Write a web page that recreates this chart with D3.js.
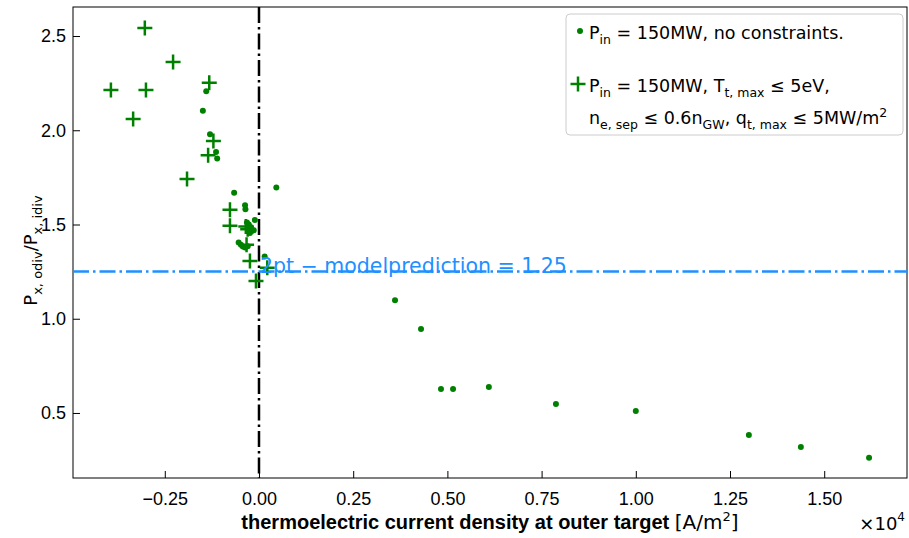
<!DOCTYPE html>
<html>
<head>
<meta charset="utf-8">
<script src="https://cdn.jsdelivr.net/npm/d3@7"></script>
<style>
  body { margin: 0; background: #fff; }
  svg { display: block; }
</style>
</head>
<body>
<div class="canvas"></div>
<script>
// data (x in units of 1e4 A/m^2)
const freeX = [-0.140, -0.149, -0.130, -0.114, -0.111, 0.046, -0.066, -0.037, -0.036, -0.011,
  -0.032, -0.027, -0.021, -0.019, -0.024, -0.014,
  -0.054, -0.048, -0.043, -0.037, -0.030, 0.015,
  0.361, 0.430, 0.483, 0.515, 0.610, 0.788, 1.000, 1.300, 1.438, 1.619];
const freeY = [2.207, 2.104, 1.979, 1.885, 1.850, 1.696, 1.669, 1.602, 1.581, 1.524,
  1.510, 1.500, 1.485, 1.465, 1.455, 1.470,
  1.404, 1.393, 1.383, 1.378, 1.385, 1.330,
  1.098, 0.945, 0.627, 0.627, 0.638, 0.548, 0.511, 0.383, 0.320, 0.262];
const consX = [-0.303, -0.228, -0.393, -0.300, -0.132, -0.334, -0.191, -0.121, -0.135,
  -0.077, -0.077, -0.035, -0.030, -0.033, -0.024, 0.022, -0.008];
const consY = [2.542, 2.362, 2.214, 2.214, 2.252, 2.060, 1.742, 1.943, 1.867,
  1.578, 1.494, 1.490, 1.475, 1.392, 1.307, 1.270, 1.200];
const xTicks = [-0.25, 0, 0.25, 0.5, 0.75, 1.0, 1.25, 1.5];
const yTicks = [0.5, 1.0, 1.5, 2.0, 2.5];
const prediction = 1.25;

const width = 909, height = 538;
const margin = { top: 7, right: 2, bottom: 60, left: 73 };
const green = '#008000';
const blue = '#1e90ff';
const mathFont = "'DejaVu Sans', sans-serif";
const tickFont = "'Liberation Sans', Arial, sans-serif";

const svg = d3.select('.canvas').append('svg')
  .attr('width', width)
  .attr('height', height);

const x = d3.scaleLinear().domain([-0.4936, 1.7197]).range([margin.left, width - margin.right]);
const y = d3.scaleLinear().domain([0.155, 2.654]).range([height - margin.bottom, margin.top]);

// axes (ticks pointing inward)
const xAxis = d3.axisTop(x).tickValues(xTicks).tickSize(7).tickFormat(d3.format('.2f'));
const yAxis = d3.axisRight(y).tickValues(yTicks).tickSize(7).tickFormat(d3.format('.1f'));

const xAxisGroup = svg.append('g')
  .attr('transform', `translate(0,${y.range()[0]})`)
  .call(xAxis);
xAxisGroup.select('.domain').remove();
xAxisGroup.selectAll('line').attr('stroke', '#000').attr('stroke-width', 1);
xAxisGroup.selectAll('text')
  .attr('y', 27)
  .attr('dy', 0)
  .attr('font-family', tickFont)
  .attr('font-size', 18)
  .attr('fill', '#000')
  .text(d => d < 0 ? '\u2212' + d3.format('.2f')(-d) : d3.format('.2f')(d));

const yAxisGroup = svg.append('g')
  .attr('transform', `translate(${x.range()[0]},0)`)
  .call(yAxis);
yAxisGroup.select('.domain').remove();
yAxisGroup.selectAll('line').attr('stroke', '#000').attr('stroke-width', 1);
yAxisGroup.selectAll('text')
  .attr('x', -7)
  .attr('text-anchor', 'end')
  .attr('font-family', tickFont)
  .attr('font-size', 18)
  .attr('fill', '#000');

// frame
svg.append('rect')
  .attr('x', x.range()[0])
  .attr('y', y.range()[1])
  .attr('width', x.range()[1] - x.range()[0])
  .attr('height', y.range()[0] - y.range()[1])
  .attr('fill', 'none')
  .attr('stroke', '#000')
  .attr('stroke-width', 1);

// reference lines
svg.append('line')
  .attr('x1', x(0)).attr('x2', x(0))
  .attr('y1', y.range()[1]).attr('y2', y.range()[0])
  .attr('stroke', '#000')
  .attr('stroke-width', 2.5)
  .attr('stroke-dasharray', '16,4,2.5,4');

svg.append('line')
  .attr('x1', x.range()[0]).attr('x2', x.range()[1])
  .attr('y1', y(prediction)).attr('y2', y(prediction))
  .attr('stroke', blue)
  .attr('stroke-width', 2.5)
  .attr('stroke-dasharray', '16,4,2.5,4');

// points
const free = freeX.map((v, i) => ({ x: v, y: freeY[i] }));
const cons = consX.map((v, i) => ({ x: v, y: consY[i] }));

svg.append('g').selectAll('circle')
  .data(free)
  .enter().append('circle')
    .attr('cx', d => x(d.x))
    .attr('cy', d => y(d.y))
    .attr('r', 3)
    .attr('fill', green);

const plusPath = (cx, cy, s) => `M${cx - s},${cy}H${cx + s}M${cx},${cy - s}V${cy + s}`;

svg.append('g').selectAll('path')
  .data(cons)
  .enter().append('path')
    .attr('d', d => plusPath(x(d.x), y(d.y), 7.5))
    .attr('stroke', green)
    .attr('stroke-width', 2.5)
    .attr('fill', 'none');

svg.append('text')
  .attr('x', x(0) + 1)
  .attr('y', y(prediction) + 1.5)
  .attr('font-family', mathFont)
  .attr('font-size', 20.5)
  .attr('fill', blue)
  .text('2pt \u2212 modelprediction = 1.25');

// axis labels
const xLabel = svg.append('text')
  .attr('x', (x.range()[0] + x.range()[1]) / 2)
  .attr('y', 529)
  .attr('text-anchor', 'middle')
  .attr('font-size', 20)
  .attr('fill', '#000');
xLabel.append('tspan')
  .attr('font-family', tickFont)
  .attr('font-weight', 'bold')
  .text('thermoelectric current density at outer target ');
xLabel.append('tspan').attr('font-family', mathFont).text('[A/m');
xLabel.append('tspan').attr('font-family', mathFont).attr('font-size', 13).attr('dy', -8).text('2');
xLabel.append('tspan').attr('font-family', mathFont).attr('dy', 8).text(']');

const expo = svg.append('text')
  .attr('x', 905)
  .attr('y', 530)
  .attr('text-anchor', 'end')
  .attr('font-family', mathFont)
  .attr('font-size', 18)
  .attr('fill', '#000');
expo.append('tspan').text('\u00d710');
expo.append('tspan').attr('font-size', 12).attr('dy', -9).text('4');

const yLabel = svg.append('text')
  .attr('transform', `translate(37,${(y.range()[0] + y.range()[1]) / 2 + 8}) rotate(-90)`)
  .attr('text-anchor', 'middle')
  .attr('font-family', mathFont)
  .attr('font-size', 18)
  .attr('fill', '#000');
yLabel.append('tspan').text('P');
yLabel.append('tspan').attr('font-size', 13).attr('dy', 5).text('x, odiv');
yLabel.append('tspan').attr('dy', -5).text('/P');
yLabel.append('tspan').attr('font-size', 13).attr('dy', 5).text('x, idiv');

// legend
const legend = svg.append('g');
legend.append('rect')
  .attr('x', 566).attr('y', 14)
  .attr('width', 337).attr('height', 121)
  .attr('rx', 4)
  .attr('fill', '#fff')
  .attr('stroke', '#ccc')
  .attr('stroke-width', 1);

legend.append('circle').attr('cx', 580).attr('cy', 31).attr('r', 3).attr('fill', green);
legend.append('path')
  .attr('d', plusPath(578, 84, 7.5))
  .attr('stroke', green).attr('stroke-width', 2.5).attr('fill', 'none');

// helper to write math-like text pieces: [text, sub/sup]
const mathLine = function(xp, yp, parts) {
  const t = legend.append('text')
    .attr('x', xp).attr('y', yp)
    .attr('font-family', mathFont)
    .attr('font-size', 17.5)
    .attr('fill', '#000');
  let down = false;
  parts.forEach(p => {
    const sub = p[1] === 'sub', sup = p[1] === 'sup';
    let dy = 0;
    if (sub && !down) { dy = 5; down = true; }
    else if (!sub && down) { dy = -5; down = false; }
    const s = t.append('tspan').attr('dy', dy).text(p[0]);
    if (sub) s.attr('font-size', 12.5);
    if (sup) s.attr('font-size', 12.5).attr('dy', -7);
  });
  return t;
};

mathLine(589, 39, [['P'], ['in', 'sub'], [' = 150MW,  no constraints.']]);
mathLine(589, 92, [['P'], ['in', 'sub'], [' = 150MW,  T'], ['t, max', 'sub'], [' \u2264 5eV,']]);
mathLine(589, 124, [['n'], ['e, sep', 'sub'], [' \u2264 0.6n'], ['GW', 'sub'], [', q'], ['t, max', 'sub'], [' \u2264 5MW/m'], ['2', 'sup']]);
</script>
</body>
</html>
